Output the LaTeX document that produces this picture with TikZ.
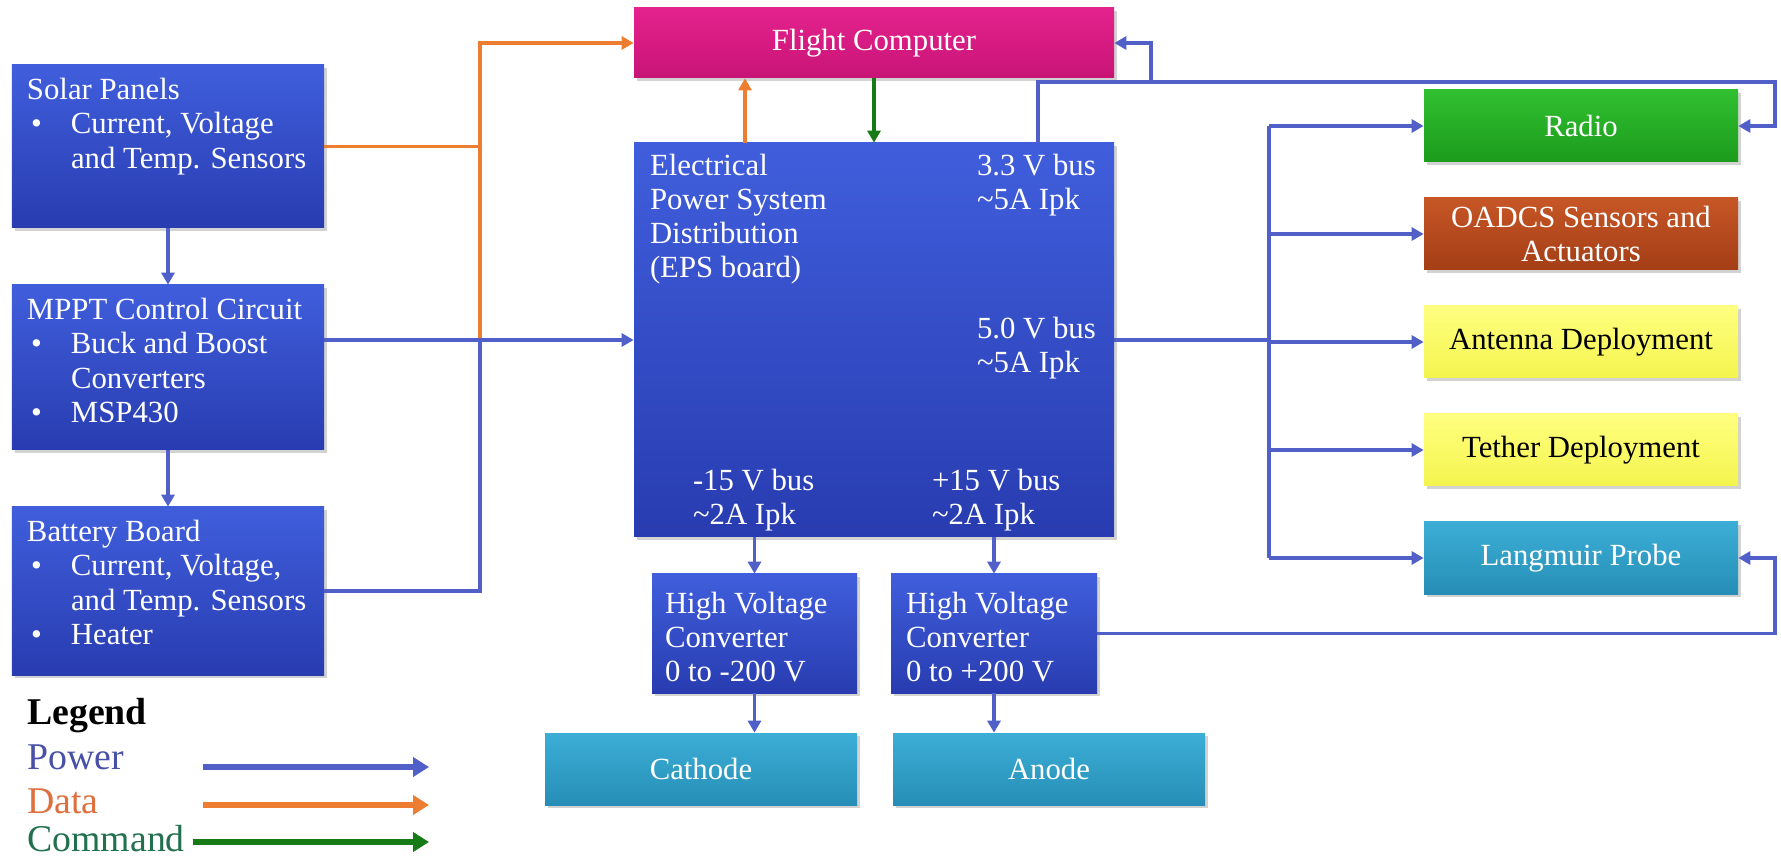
\documentclass[tikz,border=0pt]{standalone}
\usepackage{fontspec}
\setmainfont{Liberation Serif}
\usetikzlibrary{arrows.meta,positioning,calc,shadows}
\definecolor{epsblue}{RGB}{64,94,220}
\definecolor{epsbluedark}{RGB}{40,60,176}
\definecolor{fcpink}{RGB}{228,34,142}
\definecolor{fcpinkdark}{RGB}{200,20,118}
\definecolor{radiogreen}{RGB}{48,192,48}
\definecolor{radiogreendark}{RGB}{28,156,28}
\definecolor{adcsbrown}{RGB}{198,86,38}
\definecolor{adcsbrowndark}{RGB}{164,62,22}
\definecolor{deployyellow}{RGB}{255,255,128}
\definecolor{deployyellowdark}{RGB}{244,244,78}
\definecolor{probeteal}{RGB}{60,174,214}
\definecolor{probetealdark}{RGB}{38,142,182}
\definecolor{pwrline}{RGB}{80,96,200}
\definecolor{dataline}{RGB}{237,125,49}
\definecolor{cmdline}{RGB}{22,122,22}
\definecolor{pwrtext}{RGB}{72,80,168}
\definecolor{datatext}{RGB}{222,112,62}
\definecolor{cmdtext}{RGB}{34,112,78}
\newcommand{\boxfont}{\fontsize{17.5}{19.4}\selectfont}
\newcommand{\legfont}{\fontsize{21.5}{24}\selectfont}
\tikzset{
  subsys/.style={inner sep=0pt, font=\boxfont, drop shadow={shadow xshift=0.05cm, shadow yshift=-0.06cm, opacity=0.35}},
  bluebox/.style={subsys, top color=epsblue, bottom color=epsbluedark},
  pinkbox/.style={subsys, top color=fcpink, bottom color=fcpinkdark, text=white},
  greenbox/.style={subsys, top color=radiogreen, bottom color=radiogreendark, text=white},
  brownbox/.style={subsys, top color=adcsbrown, bottom color=adcsbrowndark, text=white, align=center},
  yellowbox/.style={subsys, top color=deployyellow, bottom color=deployyellowdark, text=black},
  tealbox/.style={subsys, top color=probeteal, bottom color=probetealdark, text=white},
  boxtext/.style={anchor=north west, inner sep=0pt, text=white, font=\boxfont, align=left},
  pwr/.style={draw=pwrline, line width=2pt, -{Triangle[length=0.24cm,width=0.26cm]}},
  pwrbus/.style={draw=pwrline, line width=2pt},
  data/.style={draw=dataline, line width=2pt, -{Triangle[length=0.24cm,width=0.26cm]}},
  databus/.style={draw=dataline, line width=2pt},
  cmd/.style={draw=cmdline, line width=2pt, -{Triangle[length=0.24cm,width=0.26cm]}},
  legarrow/.style={line width=3pt, -{Triangle[length=0.32cm,width=0.38cm]}},
  legtext/.style={anchor=base west, inner sep=0pt, font=\legfont}
}
\begin{document}
\begin{tikzpicture}
  \path[fill=white, use as bounding box] (0,0) rectangle (35.62,17.14);

  % Power source chain
  \node[bluebox, minimum width=6.24cm, minimum height=3.26cm] (solar) at (3.36,14.21) {};
  \node[bluebox, minimum width=6.24cm, minimum height=3.3cm] (mppt) at (3.36,9.79) {};
  \node[bluebox, minimum width=6.24cm, minimum height=3.36cm] (battery) at (3.36,5.32) {};
  \node[boxtext] (solartxt) at ([shift={(0.3,-0.22)}]solar.north west) {\begin{tabular}{@{}p{0.88cm}@{}l@{}}\multicolumn{2}{@{}l@{}}{Solar Panels}\\ \hspace{0.08cm}\textbullet & Current, Voltage\\ & and Temp. Sensors\end{tabular}};
  \node[boxtext] (mppttxt) at ([shift={(0.3,-0.22)}]mppt.north west) {\begin{tabular}{@{}p{0.88cm}@{}l@{}}\multicolumn{2}{@{}l@{}}{MPPT Control Circuit}\\ \hspace{0.08cm}\textbullet & Buck and Boost\\ & Converters\\ \hspace{0.08cm}\textbullet & MSP430\end{tabular}};
  \node[boxtext] (batterytxt) at ([shift={(0.3,-0.22)}]battery.north west) {\begin{tabular}{@{}p{0.88cm}@{}l@{}}\multicolumn{2}{@{}l@{}}{Battery Board}\\ \hspace{0.08cm}\textbullet & Current, Voltage,\\ & and Temp. Sensors\\ \hspace{0.08cm}\textbullet & Heater\end{tabular}};

  % Flight computer and EPS board
  \node[pinkbox, minimum width=9.6cm, minimum height=1.4cm] (fc) at (17.48,16.28) {Flight Computer};
  \node[bluebox, minimum width=9.6cm, minimum height=7.88cm] (eps) at (17.48,10.34) {};
  \node[boxtext] (epstxt) at ([shift={(0.32,-0.22)}]eps.north west) {Electrical\\Power System\\Distribution\\(EPS board)};
  \node[boxtext] (bus33) at ([shift={(6.86,-0.22)}]eps.north west) {3.3 V bus\\\textasciitilde5A Ipk};
  \node[boxtext] (bus50) at ([shift={(6.86,-3.48)}]eps.north west) {5.0 V bus\\\textasciitilde5A Ipk};
  \node[boxtext] (busneg) at ([shift={(1.18,-6.52)}]eps.north west) {-15 V bus\\\textasciitilde2A Ipk};
  \node[boxtext] (buspos) at ([shift={(5.96,-6.52)}]eps.north west) {+15 V bus\\\textasciitilde2A Ipk};

  % High voltage converters and electrodes
  \node[bluebox, minimum width=4.1cm, minimum height=2.38cm] (hvneg) at (15.09,4.47) {};
  \node[bluebox, minimum width=4.12cm, minimum height=2.38cm] (hvpos) at (19.88,4.47) {};
  \node[boxtext] (hvnegtxt) at ([shift={(0.26,-0.36)}]hvneg.north west) {High Voltage\\Converter\\0 to -200 V};
  \node[boxtext] (hvpostxt) at ([shift={(0.3,-0.36)}]hvpos.north west) {High Voltage\\Converter\\0 to +200 V};
  \node[tealbox, minimum width=6.24cm, minimum height=1.44cm] (cathode) at (14.02,1.76) {Cathode};
  \node[tealbox, minimum width=6.24cm, minimum height=1.44cm] (anode) at (20.98,1.76) {Anode};

  % Loads
  \node[greenbox, minimum width=6.28cm, minimum height=1.44cm] (radio) at (31.62,14.62) {Radio};
  \node[brownbox, minimum width=6.28cm, minimum height=1.44cm] (adcs) at (31.62,12.46) {OADCS Sensors and\\Actuators};
  \node[yellowbox, minimum width=6.28cm, minimum height=1.44cm] (antenna) at (31.62,10.30) {Antenna Deployment};
  \node[yellowbox, minimum width=6.28cm, minimum height=1.44cm] (tether) at (31.62,8.14) {Tether Deployment};
  \node[tealbox, minimum width=6.28cm, minimum height=1.44cm] (probe) at (31.62,5.98) {Langmuir Probe};

  % Routing points
  \coordinate (djoin) at (9.6,10.34);
  \coordinate (ptop) at (20.76,15.5);
  \coordinate (pfc) at (23.02,15.5);
  \coordinate (pright) at (35.5,15.5);
  \coordinate (bus) at (25.38,10.34);

  % Data lines
  \draw[databus] (solar.east) -- (solar.east -| djoin);
  \draw[data] (djoin) |- (fc.west);
  \draw[data] ([xshift=-2.58cm]eps.north) -- ([xshift=-2.58cm]fc.south);

  % Command line
  \draw[cmd] (fc.south) -- (eps.north);

  % Power lines
  \draw[pwr] (solar.south) -- (mppt.north);
  \draw[pwr] (mppt.south) -- (battery.north);
  \draw[pwr] (mppt.east |- eps.west) -- (eps.west);
  \draw[pwrbus] (battery.east) -| (djoin);
  \draw[pwr] (eps.north -| ptop) -- (ptop) -- (pright) |- (radio.east);
  \draw[pwr] (pfc) |- (fc.east);
  \draw[pwrbus] (eps.east) -- (eps.east -| bus);
  \draw[pwrbus] (bus |- radio.west) -- (bus |- probe.west);
  \foreach \load in {radio,adcs,antenna,tether,probe}
    \draw[pwr] (bus |- \load.west) -- (\load.west);
  \draw[pwr] (hvneg.north |- eps.south) -- (hvneg.north);
  \draw[pwr] (hvpos.north |- eps.south) -- (hvpos.north);
  \draw[pwr] (hvneg.south) -- (hvneg.south |- cathode.north);
  \draw[pwr] (hvpos.south) -- (hvpos.south |- anode.north);
  \draw[pwr] (hvpos.east) -- (hvpos.east -| pright) |- (probe.east);

  % Legend
  \node[legtext, font=\legfont\bfseries] (legend) at (0.54,2.66) {Legend};
  \node[legtext, text=pwrtext] (legpwr) at (0.54,1.76) {Power};
  \node[legtext, text=datatext] (legdata) at (0.54,0.88) {Data};
  \node[legtext, text=cmdtext] (legcmd) at (0.54,0.12) {Command};
  \coordinate (pwrfrom) at (4.06,1.8);
  \coordinate (pwrto) at (8.58,1.8);
  \coordinate (datafrom) at (4.06,1.04);
  \coordinate (datato) at (8.58,1.04);
  \coordinate (cmdfrom) at (3.86,0.3);
  \coordinate (cmdto) at (8.58,0.3);
  \draw[legarrow, pwrline] (pwrfrom) -- (pwrto);
  \draw[legarrow, dataline] (datafrom) -- (datato);
  \draw[legarrow, cmdline] (cmdfrom) -- (cmdto);
\end{tikzpicture}
\end{document}
